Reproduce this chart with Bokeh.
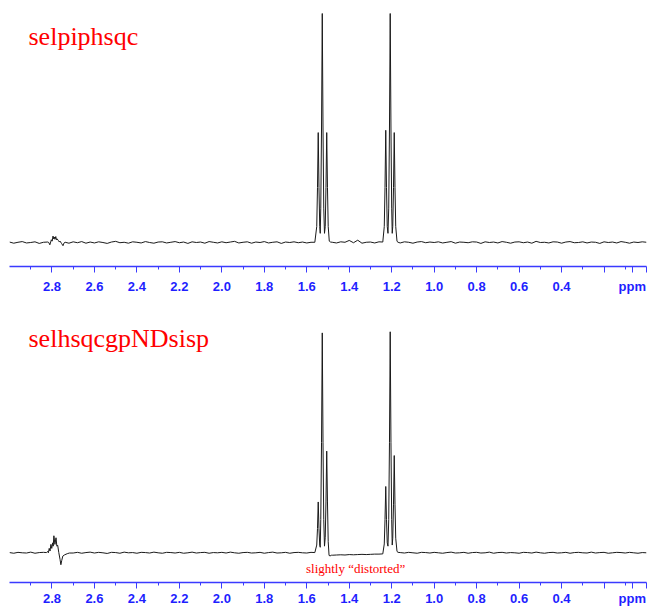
import numpy as np
from bokeh.plotting import figure
from bokeh.layouts import column
from bokeh.models import Range1d, FixedTicker, Label
from bokeh.embed import file_html
from bokeh.resources import INLINE

# ---------------- data ----------------
titles = ["selpiphsqc", "selhsqcgpNDsisp"]
note_text = "slightly \u201cdistorted\u201d"
note_ppm = 1.37

tick_values = [2.8, 2.6, 2.4, 2.2, 2.0, 1.8, 1.6, 1.4, 1.2, 1.0, 0.8, 0.6, 0.4, 0.2, 0.0]
tick_labels = ["2.8", "2.6", "2.4", "2.2", "2.0", "1.8", "1.6", "1.4", "1.2", "1.0", "0.8", "0.6", "0.4", "", ""]
minor_tick_values = [2.9, 2.7, 2.5, 2.3, 2.1, 1.9, 1.7, 1.5, 1.3, 1.1, 0.9, 0.7, 0.5, 0.3, 0.1]
unit_label = "ppm"
unit_label_ppm = 0.067

# baseline samples, ppm 3.00 -> 0.00 every 0.02 (151 samples)
top_noise = [0.2, -0.3, 0.1, 0.4, -0.2, 0.0, 0.3, -0.4, 0.1, 0.2,
             0.0, 0.0, 0.0, 0.0, -0.3, 0.3, -0.1, 0.4, -0.3, 0.2,
             -0.2, 0.3, 0.0, -0.4, 0.2, 0.5, -0.1, 0.1, -0.3, 0.3,
             0.1, -0.2, 0.4, 0.0, -0.3, 0.2, 0.3, -0.2, 0.1, 0.4,
             -0.1, 0.2, -0.4, 0.3, 0.0, 0.2, -0.3, 0.4, 0.1, -0.2,
             0.3, -0.1, 0.2, 0.5, -0.2, 0.1, 0.3, -0.3, 0.2, 0.0,
             0.4, -0.2, 0.1, 0.3, -0.4, 0.2, 0.0, 0.3, -0.1, 0.2,
             -0.2, 0.1, 0.0, 0.0, 0.0, 0.0, 0.1, -0.2, 0.3, 0.1,
             0.9, -0.1, 1.0, -0.3, 0.1, 0.2, -0.2, 0.3, 0.1, 0.0,
             0.0, 0.0, -0.2, 0.3, 0.1, -0.3, 0.2, 0.4, -0.1, 0.2,
             0.0, 0.3, -0.2, 0.1, 0.4, -0.3, 0.2, 0.1, -0.1, 0.3,
             0.2, -0.4, 0.3, 0.0, 0.2, -0.2, 0.4, 0.1, -0.3, 0.2,
             0.3, -0.1, 0.2, -0.3, 0.5, 0.0, 0.1, -0.2, 0.3, 0.2,
             -0.3, 0.2, 0.4, -0.1, 0.0, 0.3, -0.2, 0.2, 0.1, -0.4,
             0.3, 0.0, 0.2, -0.2, 0.4, 0.1, -0.3, 0.2, 0.0, 0.3, 0.1]

bot_noise = [0.1, -0.2, 0.2, 0.0, -0.1, 0.3, -0.2, 0.1, 0.2, -0.1,
             0.0, 0.0, 0.0, 0.0, 0.0, -0.1, 0.2, -0.2, 0.1, 0.3,
             -0.1, 0.2, 0.0, -0.3, 0.2, 0.1, -0.2, 0.3, 0.0, 0.1,
             -0.2, 0.2, 0.1, -0.1, 0.3, 0.0, -0.2, 0.2, 0.1, -0.1,
             0.2, -0.2, 0.0, 0.3, -0.1, 0.1, 0.2, -0.2, 0.1, 0.0,
             0.2, -0.1, 0.3, 0.0, -0.2, 0.1, 0.2, -0.1, 0.0, 0.2,
             -0.2, 0.1, 0.3, -0.1, 0.0, 0.2, -0.2, 0.1, 0.2, 0.0,
             -0.1, 0.2, 0.0, 0.0, 0.0, 0.0, -1.1, -1.0, -0.9, -1.0,
             -0.8, -0.9, -0.8, -0.7, -0.8, -0.7, -0.6, -0.6, -0.4, 0.0,
             0.0, 0.0, 0.1, -0.1, 0.2, 0.0, -0.2, 0.2, 0.1, -0.1,
             0.2, 0.0, -0.2, 0.1, 0.3, -0.1, 0.0, 0.2, -0.2, 0.1,
             0.2, -0.1, 0.0, 0.3, -0.2, 0.1, 0.2, -0.1, 0.1, 0.0,
             -0.2, 0.2, 0.1, -0.1, 0.3, 0.0, -0.2, 0.1, 0.2, -0.1,
             0.0, 0.2, -0.2, 0.1, 0.2, 0.0, -0.1, 0.3, -0.1, 0.1,
             0.2, -0.2, 0.0, 0.2, 0.1, -0.1, 0.2, 0.0, -0.2, 0.1, 0.0]

# signal regions (ppm, intensity)
top_mult_ppm = [2.815, 2.810, 2.806, 2.803, 2.799, 2.795, 2.792, 2.789, 2.786, 2.782, 2.779, 2.776, 2.770, 2.765, 2.762, 2.755, 2.748, 2.744, 2.738]
top_mult_int = [0.0, -1.0, 0.2, 1.2, 0.6, 2.8, 1.6, 2.4, 1.4, 2.6, 1.2, 1.6, 0.9, 0.2, 0.6, -0.4, -1.4, -0.3, 0.1]

top_t1_ppm = [1.562, 1.553, 1.5495, 1.546, 1.5425, 1.539, 1.5365, 1.534, 1.5305, 1.527, 1.5235, 1.520, 1.5165, 1.513, 1.5095, 1.506, 1.5025, 1.499, 1.494, 1.488]
top_t1_int = [0.1, 7, 24, 48, 24, 7, 4, 15, 50, 100, 50, 15, 4, 7, 24, 48, 24, 7, 0.6, 0.2]

top_t2_ppm = [1.242, 1.235, 1.2315, 1.228, 1.2245, 1.221, 1.2175, 1.214, 1.2105, 1.207, 1.2035, 1.200, 1.1975, 1.195, 1.1915, 1.188, 1.1845, 1.181, 1.175, 1.170]
top_t2_int = [0.2, 7, 24, 49, 24, 7, 4, 15, 50, 100, 50, 15, 4, 7, 24, 48, 24, 7, 0.5, 0.1]

bot_mult_ppm = [2.826, 2.821, 2.817, 2.813, 2.809, 2.805, 2.801, 2.797, 2.794, 2.791, 2.786, 2.781, 2.777, 2.773, 2.768, 2.762, 2.758, 2.754, 2.749, 2.740, 2.728, 2.718]
bot_mult_int = [0.1, 0.6, 0.0, 2.0, 0.8, 3.8, 2.0, 4.5, 3.0, 7.7, 3.8, 6.8, 3.0, 3.4, 0.2, -3.0, -5.4, -3.5, -1.5, -0.9, -0.4, -0.1]

bot_t1_ppm = [1.562, 1.553, 1.5495, 1.546, 1.5425, 1.539, 1.5365, 1.534, 1.5305, 1.527, 1.5235, 1.520, 1.5165, 1.513, 1.5095, 1.506, 1.5025, 1.499, 1.495, 1.490, 1.484]
bot_t1_int = [0.1, 3.5, 11, 23, 11, 3.5, 2.5, 15, 50, 99.5, 50, 15, 3, 7, 23, 46, 23, 5, -1.2, -1.4, -1.1]

bot_t2_ppm = [1.242, 1.235, 1.2315, 1.228, 1.2245, 1.221, 1.2175, 1.214, 1.2105, 1.207, 1.2035, 1.200, 1.1975, 1.195, 1.1915, 1.188, 1.1845, 1.181, 1.175, 1.170]
bot_t2_int = [-0.5, 4, 15, 30, 15, 4.5, 3, 15, 50, 100, 50, 15, 3.5, 6.6, 22, 44, 22, 6.6, 0.6, 0.2]


def build(noise, regions):
    grid = np.round(3.0 - 0.02 * np.arange(len(noise)), 3)
    xs, ys = [], []
    for g, v in zip(grid, noise):
        if any(min(r[0]) <= g <= max(r[0]) for r in regions):
            continue
        xs.append(g)
        ys.append(v)
    for rx, ry in regions:
        xs.extend(rx)
        ys.extend(ry)
    order = np.argsort(xs)[::-1]
    return np.array(xs)[order], np.array(ys)[order]


top_x, top_y = build(top_noise, [(top_mult_ppm, top_mult_int), (top_t1_ppm, top_t1_int), (top_t2_ppm, top_t2_int)])
bot_x, bot_y = build(bot_noise, [(bot_mult_ppm, bot_mult_int), (bot_t1_ppm, bot_t1_int), (bot_t2_ppm, bot_t2_int)])

AXIS_BLUE = "#3a3aff"
LABEL_BLUE = "#1f1fff"


def make_fig(xs, ys, ylo, yhi, bborder, standoff, title, title_y):
    p = figure(width=647, height=304, x_range=Range1d(3.0, 0.0), y_range=Range1d(ylo, yhi),
               output_backend="svg", toolbar_location=None, y_axis_location=None,
               min_border_left=9, min_border_right=1, min_border_top=0, min_border_bottom=bborder)
    p.grid.visible = False
    p.outline_line_color = None
    p.line(xs, ys, line_color="#1a1a1a", line_width=1)
    ax = p.xaxis[0]
    ax.ticker = FixedTicker(ticks=tick_values + [unit_label_ppm], minor_ticks=minor_tick_values)
    overrides = {v: l for v, l in zip(tick_values, tick_labels)}
    overrides[unit_label_ppm] = unit_label
    ax.major_label_overrides = overrides
    ax.axis_line_color = AXIS_BLUE
    ax.axis_line_width = 1.5
    ax.major_tick_line_color = AXIS_BLUE
    ax.minor_tick_line_color = AXIS_BLUE
    ax.major_tick_out = 6
    ax.major_tick_in = 0
    ax.minor_tick_out = 3
    ax.minor_tick_in = 0
    ax.major_label_text_font = "Liberation Sans"
    ax.major_label_text_font_style = "bold"
    ax.major_label_text_font_size = "13px"
    ax.major_label_text_color = LABEL_BLUE
    ax.major_label_standoff = standoff
    p.add_layout(Label(x=19, y=title_y, x_units="screen", y_units="screen", text=title,
                       text_align="left", text_baseline="alphabetic",
                       text_font="Liberation Serif", text_font_size="26px", text_color="#ff0000"))
    return p


p1 = make_fig(top_x, top_y, -10.48, 105.68, 38, 6, titles[0], 230)
p2 = make_fig(bot_x, bot_y, -13.44, 112.35, 26, 2, titles[1], 244)
p2.add_layout(Label(x=note_ppm, y=14, x_units="data", y_units="screen", text=note_text,
                    text_align="center", text_baseline="middle",
                    text_font="Liberation Serif", text_font_size="13px", text_color="#ff0000"))

layout = column(p1, p2, spacing=0)
open("out.html", "w").write(file_html(layout, INLINE))
